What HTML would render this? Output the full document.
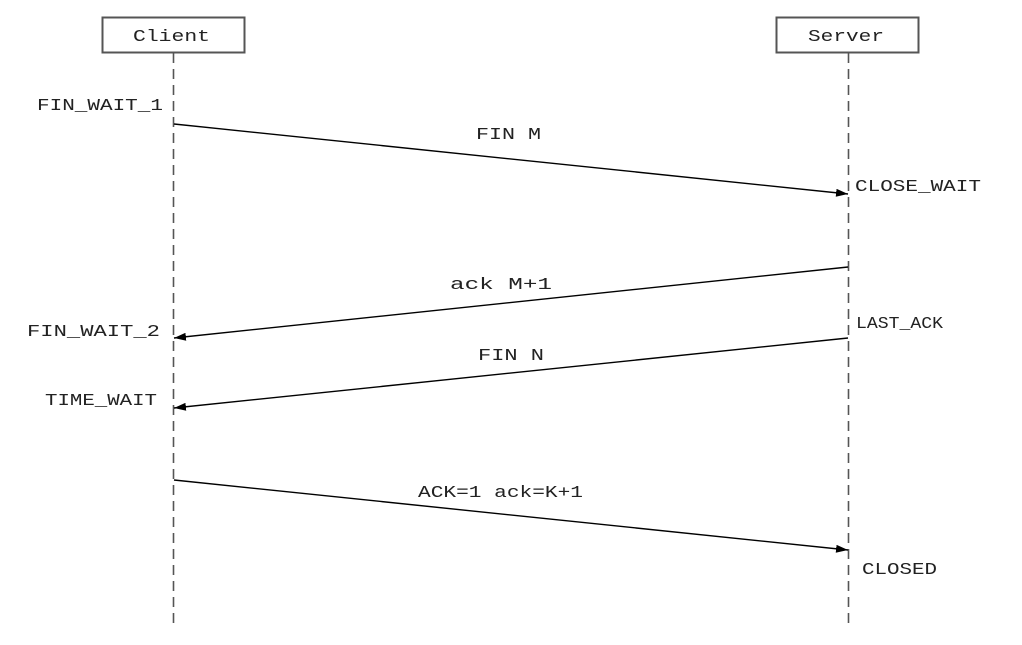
<!DOCTYPE html>
<html><head><meta charset="utf-8"><style>html,body{margin:0;padding:0;background:#fff}svg{display:block}</style></head>
<body>
<svg width="1022" height="645" viewBox="0 0 1022 645" xmlns="http://www.w3.org/2000/svg" font-family="Liberation Mono, monospace" font-size="17" fill="#222">
<defs><marker id="a" viewBox="0 0 12 8" refX="12" refY="4" markerWidth="12" markerHeight="8" markerUnits="userSpaceOnUse" orient="auto"><path d="M0,0L12,4L0,8z" fill="#000"/></marker></defs>
<rect x="102.5" y="17.5" width="142" height="35" fill="#fff" stroke="#555" stroke-width="2"/>
<rect x="776.5" y="17.5" width="142" height="35" fill="#fff" stroke="#555" stroke-width="2"/>
<text x="133" y="41" textLength="77" lengthAdjust="spacingAndGlyphs">Client</text>
<text x="808" y="41" textLength="76" lengthAdjust="spacingAndGlyphs">Server</text>
<line x1="173.5" y1="53" x2="173.5" y2="624" stroke="#555" stroke-width="1.6" stroke-dasharray="10,6"/>
<line x1="848.5" y1="53" x2="848.5" y2="624" stroke="#555" stroke-width="1.6" stroke-dasharray="10,6"/>
<g stroke="#000" stroke-width="1.4">
<line x1="174" y1="124" x2="848" y2="194" marker-end="url(#a)"/>
<line x1="848" y1="267" x2="174" y2="338" marker-end="url(#a)"/>
<line x1="848" y1="338" x2="174" y2="408" marker-end="url(#a)"/>
<line x1="174" y1="480" x2="848" y2="550" marker-end="url(#a)"/>
</g>
<g>
<text x="37" y="110" textLength="126" lengthAdjust="spacingAndGlyphs">FIN_WAIT_1</text>
<text x="476" y="139" textLength="65" lengthAdjust="spacingAndGlyphs">FIN M</text>
<text x="855" y="191" textLength="126" lengthAdjust="spacingAndGlyphs">CLOSE_WAIT</text>
<text x="450" y="289" textLength="102" lengthAdjust="spacingAndGlyphs">ack M+1</text>
<text x="27" y="336" textLength="133" lengthAdjust="spacingAndGlyphs">FIN_WAIT_2</text>
<text x="856" y="328" textLength="87" lengthAdjust="spacingAndGlyphs">LAST_ACK</text>
<text x="478" y="360" textLength="66" lengthAdjust="spacingAndGlyphs">FIN N</text>
<text x="45" y="405" textLength="112" lengthAdjust="spacingAndGlyphs">TIME_WAIT</text>
<text x="418" y="497" textLength="165" lengthAdjust="spacingAndGlyphs">ACK=1 ack=K+1</text>
<text x="862" y="574" textLength="75" lengthAdjust="spacingAndGlyphs">CLOSED</text>
</g>
</svg>
</body></html>
